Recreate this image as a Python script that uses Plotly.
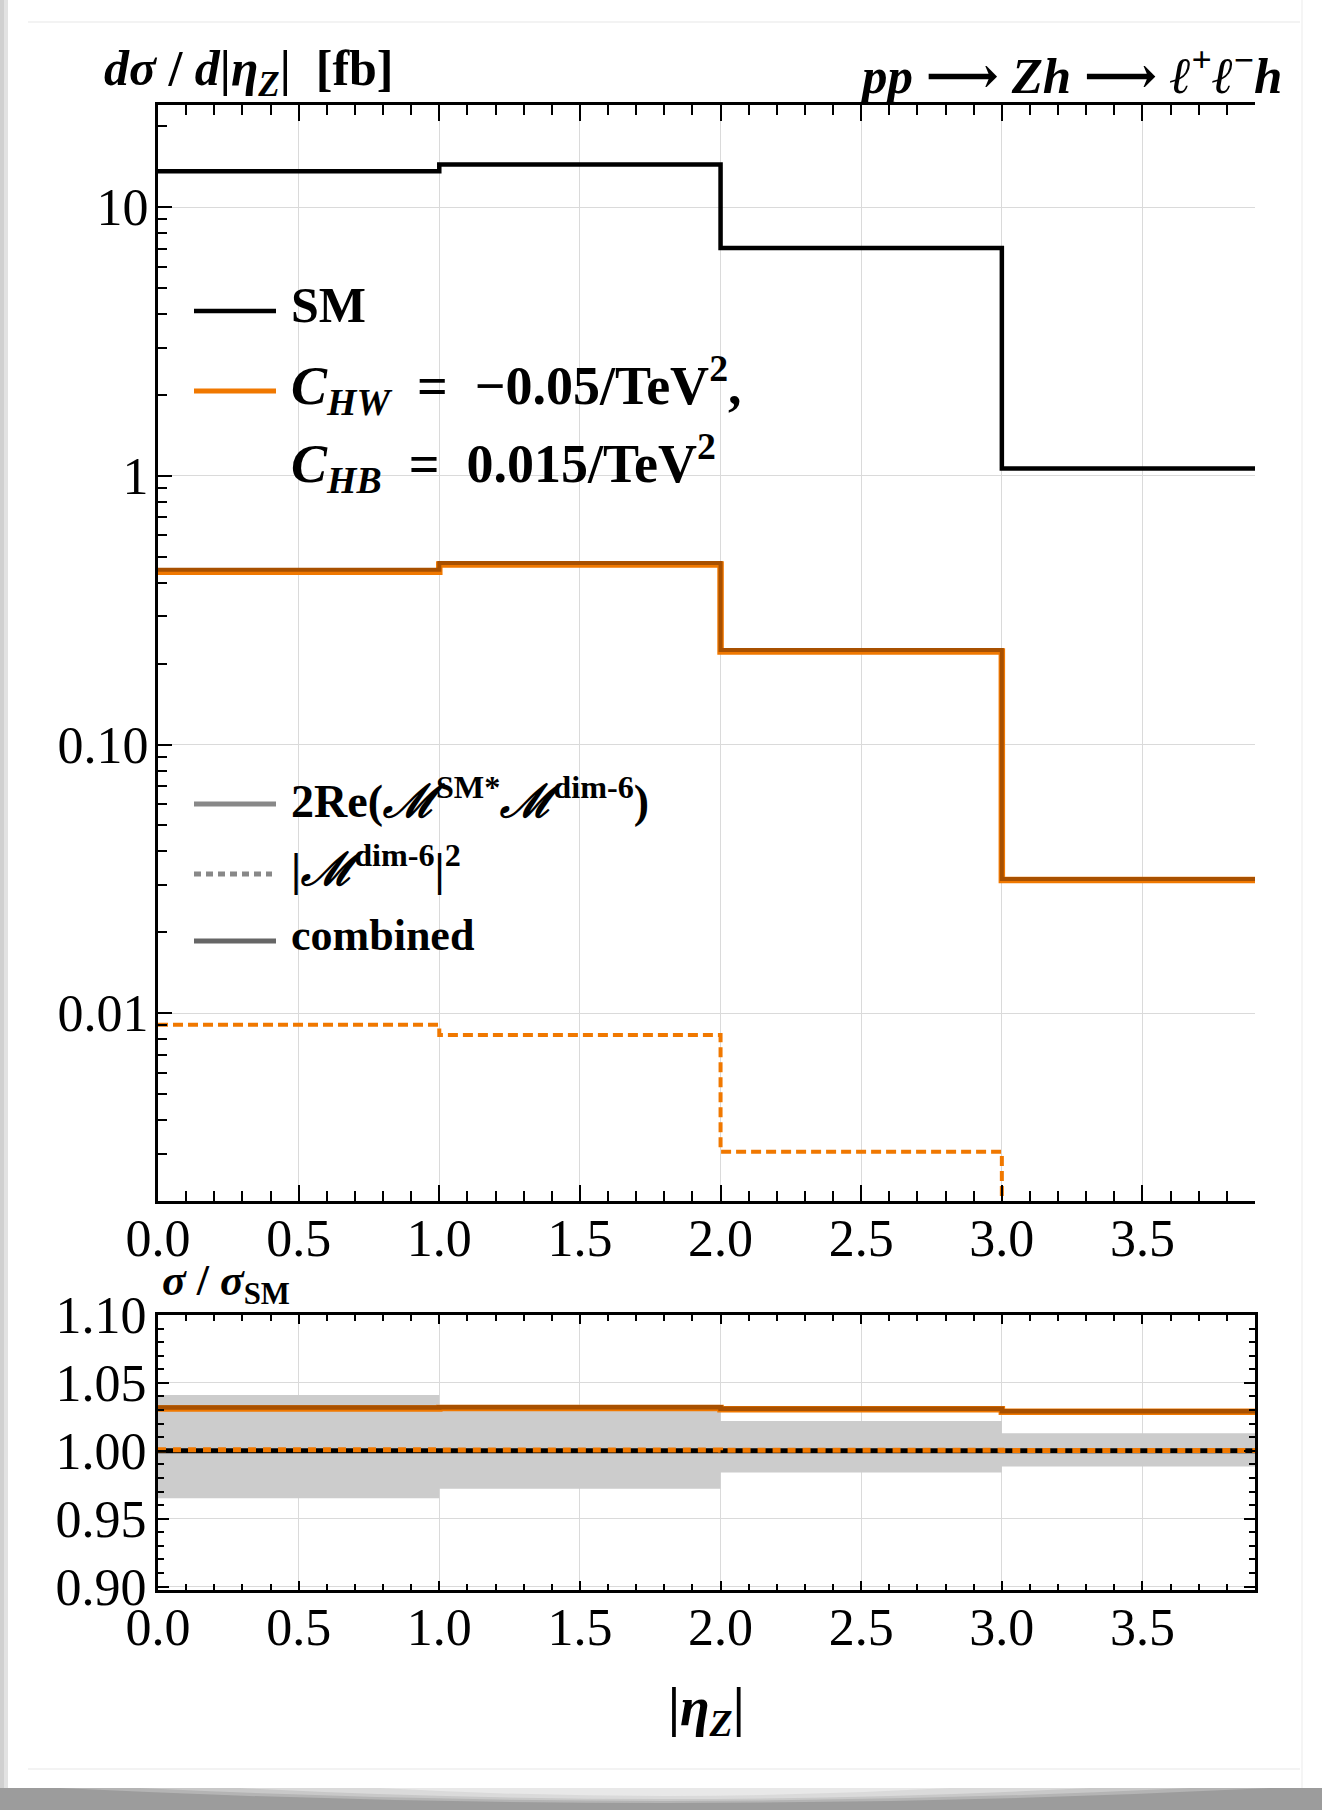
import math
import plotly.graph_objects as go

# ---------------- data ----------------
# |eta_Z| bin edges (last bin runs past the visible range)
bin_edges = [0.0, 1.0, 2.0, 3.0, 4.0]

# d sigma / d|eta_Z| in fb
sm_xsec = [13.6, 14.4, 7.05, 1.065]
interference_xsec = [0.440, 0.468, 0.222, 0.0313]   # 2Re(M_SM* M_dim6)
squared_xsec = [0.00905, 0.0083, 0.00305, 0.0008]   # |M_dim6|^2
combined_xsec = [0.447, 0.474, 0.225, 0.0316]

# sigma / sigma_SM
ratio_sm = [1.0, 1.0, 1.0, 1.0]
ratio_interference = [1.0312, 1.0316, 1.0306, 1.0288]
ratio_squared = [1.0007, 1.0006, 1.0004, 1.0002]
ratio_combined = [1.0318, 1.0321, 1.0310, 1.0291]
band_low = [0.965, 0.972, 0.984, 0.9885]
band_high = [1.041, 1.034, 1.022, 1.013]

x_ticks = [0.0, 0.5, 1.0, 1.5, 2.0, 2.5, 3.0, 3.5]
x_ticktext = ["0.0", "0.5", "1.0", "1.5", "2.0", "2.5", "3.0", "3.5"]
y_main_ticks = [0.01, 0.1, 1, 10]
y_main_ticktext = ["0.01", "0.10", "1", "10"]
y_ratio_ticks = [0.90, 0.95, 1.00, 1.05, 1.10]
y_ratio_ticktext = ["0.90", "0.95", "1.00", "1.05", "1.10"]

# ---------------- page geometry ----------------
W, H = 1322, 1810


def px(x):
    return x / W


def py(y):
    return 1 - y / H


def steps(vals):
    return vals + [vals[-1]]


BLACK = "#000000"
ORANGE = "#F07800"
BROWN = "#A85000"
GRID = "#DADADA"
FONT = "Liberation Serif, DejaVu Serif, serif"
EN = "\u2002"   # spacing around relation signs

fig = go.Figure()

# ---- upper panel: differential cross sections ----
fig.add_trace(go.Scatter(x=bin_edges, y=steps(sm_xsec), mode="lines", line_shape="hv",
                         line=dict(color=BLACK, width=4.5), name="SM",
                         xaxis="x", yaxis="y", showlegend=False))
fig.add_trace(go.Scatter(x=bin_edges, y=steps(interference_xsec), mode="lines", line_shape="hv",
                         line=dict(color=ORANGE, width=6.5), name="interference",
                         xaxis="x", yaxis="y", showlegend=False))
fig.add_trace(go.Scatter(x=bin_edges, y=steps(combined_xsec), mode="lines", line_shape="hv",
                         line=dict(color=BROWN, width=4), name="combined",
                         xaxis="x", yaxis="y", showlegend=False))
fig.add_trace(go.Scatter(x=bin_edges, y=steps(squared_xsec), mode="lines", line_shape="hv",
                         line=dict(color=ORANGE, width=4, dash="10px,5px"), name="squared",
                         xaxis="x", yaxis="y", showlegend=False))

# ---- lower panel: ratio to SM ----
fig.add_trace(go.Scatter(x=bin_edges, y=steps(band_low), mode="lines", line_shape="hv",
                         line=dict(width=0, color="#CCCCCC"), xaxis="x2", yaxis="y2",
                         showlegend=False, hoverinfo="skip"))
fig.add_trace(go.Scatter(x=bin_edges, y=steps(band_high), mode="lines", line_shape="hv",
                         line=dict(width=0, color="#CCCCCC"), fill="tonexty",
                         fillcolor="#CCCCCC", xaxis="x2", yaxis="y2",
                         showlegend=False, hoverinfo="skip"))
fig.add_trace(go.Scatter(x=bin_edges, y=steps(ratio_sm), mode="lines", line_shape="hv",
                         line=dict(color=BLACK, width=5), xaxis="x2", yaxis="y2",
                         showlegend=False))
fig.add_trace(go.Scatter(x=bin_edges, y=steps(ratio_squared), mode="lines", line_shape="hv",
                         line=dict(color=ORANGE, width=5, dash="8px,7px"), xaxis="x2", yaxis="y2",
                         showlegend=False))
fig.add_trace(go.Scatter(x=bin_edges, y=steps(ratio_interference), mode="lines", line_shape="hv",
                         line=dict(color=ORANGE, width=6.5), xaxis="x2", yaxis="y2",
                         showlegend=False))
fig.add_trace(go.Scatter(x=bin_edges, y=steps(ratio_combined), mode="lines", line_shape="hv",
                         line=dict(color=BROWN, width=4.5), xaxis="x2", yaxis="y2",
                         showlegend=False))

# ---------------- axes ----------------
y_lo, y_hi = math.log10(0.002), math.log10(24.0)
minor_log = [m * 10 ** k for k in range(-3, 2) for m in range(2, 10)
             if 0.002 <= m * 10 ** k <= 24]
ln_ticks = [math.exp(k / 2) for k in range(-14, 8) if 0.002 <= math.exp(k / 2) <= 24]

xdom = [px(158), px(1255)]
tickfont = dict(family=FONT, size=52, color=BLACK)

common_x = dict(domain=xdom, range=[0, 3.9], tickmode="array", tickvals=x_ticks,
                ticktext=x_ticktext, ticks="inside", tickwidth=2, tickcolor=BLACK,
                showline=True, linewidth=3, linecolor=BLACK, mirror="allticks",
                showgrid=True, gridcolor=GRID, gridwidth=1.2, zeroline=False,
                tickfont=tickfont, ticklabelstandoff=-10, automargin=False)

fig.update_layout(
    width=W, height=H,
    margin=dict(l=0, r=0, t=0, b=0, pad=0, autoexpand=False),
    paper_bgcolor="white", plot_bgcolor="white",
    font=dict(family=FONT, size=46, color=BLACK),
    xaxis=dict(**common_x, anchor="y", ticklen=16,
               minor=dict(dtick=0.1, ticklen=10, ticks="inside", tickwidth=2,
                          tickcolor=BLACK, showgrid=False)),
    yaxis=dict(domain=[py(1201), py(105)], type="log", range=[y_lo, y_hi],
               tickmode="array", tickvals=y_main_ticks, ticktext=y_main_ticktext,
               ticks="inside", ticklen=14, tickwidth=2, tickcolor=BLACK,
               minor=dict(tickmode="array", tickvals=minor_log, ticklen=9,
                          ticks="inside", tickwidth=2, tickcolor=BLACK, showgrid=False),
               showline=True, linewidth=3, linecolor=BLACK, mirror=False,
               showgrid=True, gridcolor=GRID, gridwidth=1.2, zeroline=False,
               tickfont=tickfont, ticklabelstandoff=-4, anchor="x", automargin=False),
    yaxis3=dict(overlaying="y", side="right", anchor="x", type="log", range=[y_lo, y_hi],
                tickmode="array", tickvals=ln_ticks, ticks="inside", ticklen=10,
                tickwidth=2, tickcolor=BLACK, showticklabels=False, showgrid=False,
                showline=True, linewidth=3, linecolor=BLACK, zeroline=False,
                automargin=False),
    xaxis2=dict(**common_x, anchor="y2", ticklen=9,
                minor=dict(dtick=0.1, ticklen=6, ticks="inside", tickwidth=2,
                           tickcolor=BLACK, showgrid=False)),
    yaxis2=dict(domain=[py(1590), py(1315)], range=[0.8975, 1.1], anchor="x2",
                tickmode="array", tickvals=y_ratio_ticks, ticktext=y_ratio_ticktext,
                ticks="inside", ticklen=11, tickwidth=2, tickcolor=BLACK,
                minor=dict(dtick=0.01, ticklen=6, ticks="inside", tickwidth=2,
                           tickcolor=BLACK, showgrid=False),
                showline=True, linewidth=3, linecolor=BLACK, mirror="allticks",
                showgrid=True, gridcolor=GRID, gridwidth=1.2, zeroline=False,
                tickfont=tickfont, ticklabelstandoff=-2, automargin=False),
)

# ---------------- legend boxes, samples and labels ----------------
shapes = []
# white legend backgrounds hide the grid behind the legend text
shapes.append(dict(type="rect", xref="paper", yref="paper", layer="between",
                   x0=px(160), x1=px(804), y0=py(537), y1=py(254),
                   fillcolor="white", line=dict(width=0)))
shapes.append(dict(type="rect", xref="paper", yref="paper", layer="between",
                   x0=px(160), x1=px(700), y0=py(998), y1=py(745),
                   fillcolor="white", line=dict(width=0)))


def sample(y, color, width, dash="solid", x0=194, x1=276):
    shapes.append(dict(type="line", xref="paper", yref="paper",
                       x0=px(x0), x1=px(x1), y0=py(y), y1=py(y),
                       line=dict(color=color, width=width, dash=dash)))


sample(311, BLACK, 4.5)
sample(391, ORANGE, 5)
sample(804, "#888888", 5)
sample(874, "#888888", 5, dash="7px,5px", x1=272)
sample(941, "#666666", 5)

# page card: soft left edge, faint rules and bottom shadow
shapes.append(dict(type="rect", xref="paper", yref="paper", layer="below",
                   x0=0, x1=px(8), y0=0, y1=1, fillcolor="#E2E2E2", line=dict(width=0)))
shapes.append(dict(type="rect", xref="paper", yref="paper", layer="below",
                   x0=0, x1=px(4), y0=0, y1=1, fillcolor="#D0D0D0", line=dict(width=0)))
shapes.append(dict(type="line", xref="paper", yref="paper", x0=px(28), x1=px(1300),
                   y0=py(22), y1=py(22), line=dict(color="#EFEFEF", width=1.5)))
shapes.append(dict(type="line", xref="paper", yref="paper", x0=px(28), x1=px(1300),
                   y0=py(1769), y1=py(1769), line=dict(color="#EFEFEF", width=1.5)))
shapes.append(dict(type="line", xref="paper", yref="paper", x0=px(1302), x1=px(1302),
                   y0=py(1788), y1=py(0), line=dict(color="#F2F2F2", width=1.5)))
shapes.append(dict(type="rect", xref="paper", yref="paper",
                   x0=0, x1=1, y0=0, y1=py(1788), fillcolor="#9C9C9C", line=dict(width=0)))


def lens(xa, xb, depth, color):
    path = (f"M {px(xa)},{py(1788)} Q {px((xa + xb) / 2)},{py(1788 + depth)} "
            f"{px(xb)},{py(1788)} Z")
    shapes.append(dict(type="path", xref="paper", yref="paper", path=path,
                       fillcolor=color, line=dict(width=0)))


lens(60, 1270, 30, "#B4B4B4")
lens(140, 1190, 26, "#C8C8C8")
lens(240, 1090, 22, "#DADADA")
lens(380, 950, 16, "#E8E8E8")

annotations = []


def label(text, x, y, xanchor="left", size=46):
    annotations.append(dict(text=text, x=px(x), y=py(y), xref="paper", yref="paper",
                            xanchor=xanchor, yanchor="middle", showarrow=False,
                            font=dict(family=FONT, size=size, color=BLACK)))


label(f"<b><i>dσ</i> / <i>d</i>|<i>η</i><sub><i>Z</i></sub>|{EN}[fb]</b>", 102, 72, size=50)
label("<b><i>pp</i> ⟶ <i>Zh</i> ⟶ <i>ℓ</i><sup>+</sup><i>ℓ</i><sup>−</sup><i>h</i></b>",
      1284, 72, xanchor="right", size=51)
label("<b>SM</b>", 289, 305, size=50)
label(f"<b><i>C</i><sub><i>HW</i></sub>{EN}={EN}−0.05/TeV<sup>2</sup>,</b>", 289, 385, size=54)
label(f"<b><i>C</i><sub><i>HB</i></sub>{EN}={EN}0.015/TeV<sup>2</sup></b>", 289, 463, size=54)
label("<b>2Re(<i>ℳ</i><sup>SM*</sup><i>ℳ</i><sup>dim-6</sup>)</b>", 289, 798, size=46)
label("<b>|<i>ℳ</i><sup>dim-6</sup>|<sup>2</sup></b>", 289, 866, size=46)
label("<b>combined</b>", 289, 936, size=44)
label("<b><i>σ</i> / <i>σ</i><sub>SM</sub></b>", 160, 1283, size=44)
label("<b>|<i>η</i><sub><i>Z</i></sub>|</b>", 706, 1710, xanchor="center", size=54)

fig.update_layout(shapes=shapes, annotations=annotations)

fig.write_html("out.html")
